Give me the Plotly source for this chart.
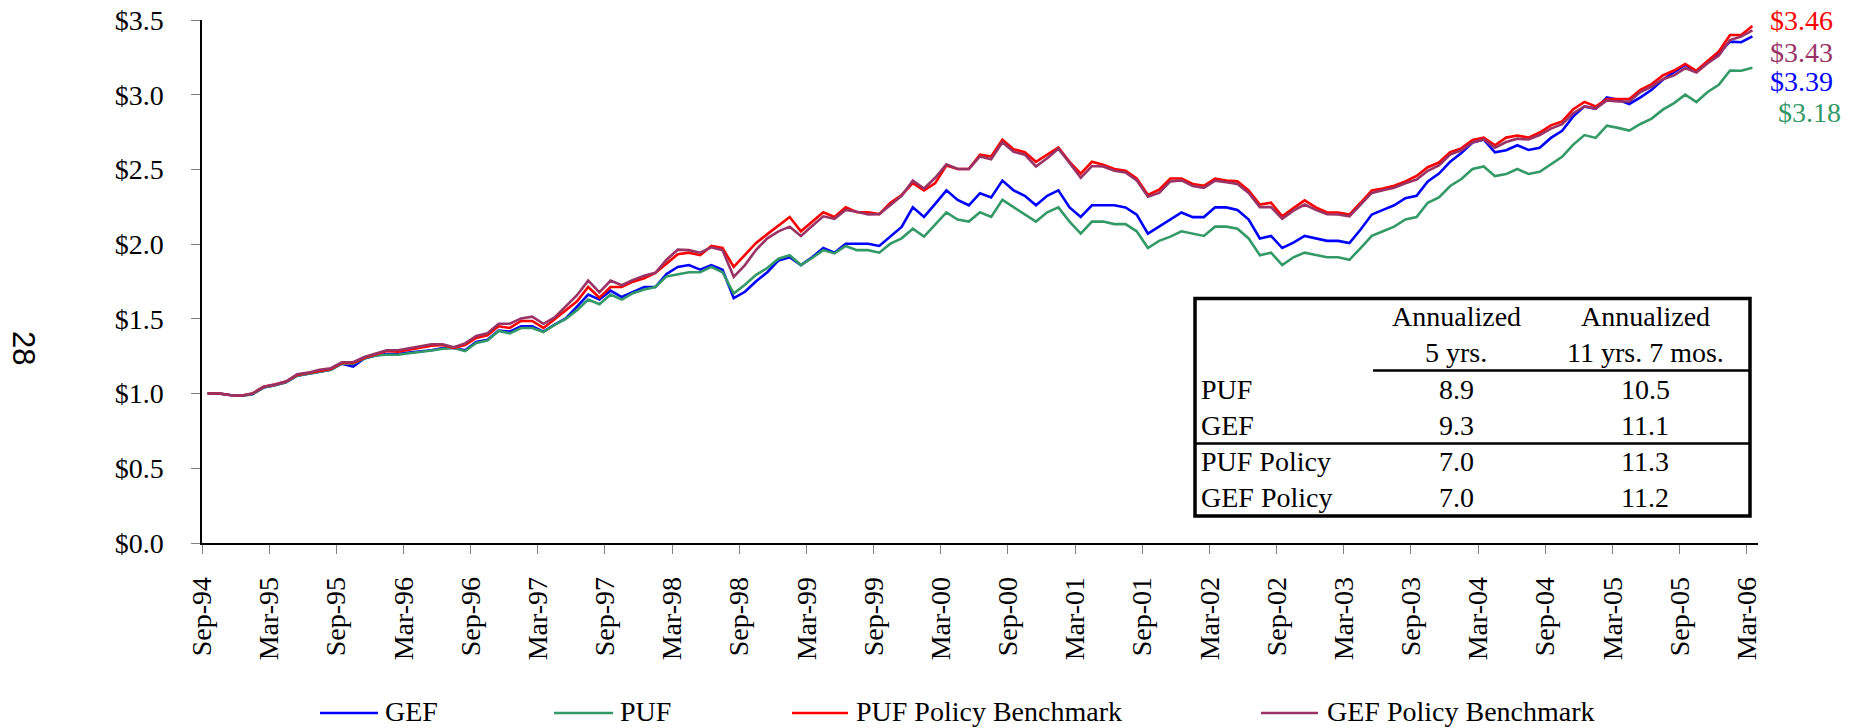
import plotly.graph_objects as go

# ---------------- data ----------------
tick_labels = ["Sep-94", "Mar-95", "Sep-95", "Mar-96", "Sep-96", "Mar-97", "Sep-97", "Mar-98",
               "Sep-98", "Mar-99", "Sep-99", "Mar-00", "Sep-00", "Mar-01", "Sep-01", "Mar-02",
               "Sep-02", "Mar-03", "Sep-03", "Mar-04", "Sep-04", "Mar-05", "Sep-05", "Mar-06"]

gef = [1.00, 1.00, 0.99, 0.985, 0.995, 1.04, 1.055, 1.075, 1.12, 1.135, 1.15, 1.16, 1.20, 1.18,
       1.235, 1.255, 1.265, 1.265, 1.275, 1.28, 1.29, 1.305, 1.305, 1.29, 1.345, 1.36, 1.422, 1.415,
       1.45, 1.45, 1.415, 1.462, 1.503, 1.582, 1.663, 1.629, 1.689, 1.646, 1.682, 1.713, 1.713, 1.801,
       1.847, 1.86, 1.829, 1.86, 1.829, 1.638, 1.681, 1.752, 1.812, 1.891, 1.912, 1.86, 1.912, 1.974,
       1.943, 2.003, 2.003, 2.003, 1.988, 2.051, 2.115, 2.246, 2.182, 2.27, 2.36, 2.296, 2.26, 2.341,
       2.313, 2.425, 2.36, 2.324, 2.26, 2.324, 2.36, 2.246, 2.182, 2.26, 2.26, 2.26, 2.246, 2.198,
       2.07, 2.117, 2.165, 2.212, 2.181, 2.181, 2.246, 2.246, 2.229, 2.165, 2.038, 2.055, 1.974, 2.01,
       2.055, 2.038, 2.022, 2.022, 2.007, 2.098, 2.198, 2.229, 2.26, 2.308, 2.324, 2.42, 2.472, 2.551,
       2.61, 2.68, 2.70, 2.615, 2.628, 2.662, 2.63, 2.645, 2.711, 2.759, 2.855, 2.922, 2.906, 2.982,
       2.966, 2.938, 2.982, 3.033, 3.10, 3.151, 3.20, 3.155, 3.222, 3.278, 3.355, 3.351, 3.39]

puf = [1.00, 1.00, 0.99, 0.985, 0.995, 1.04, 1.055, 1.075, 1.12, 1.135, 1.15, 1.16, 1.20, 1.20,
       1.235, 1.255, 1.26, 1.26, 1.27, 1.277, 1.288, 1.30, 1.305, 1.284, 1.338, 1.355, 1.419, 1.403,
       1.439, 1.439, 1.412, 1.46, 1.50, 1.558, 1.629, 1.598, 1.663, 1.629, 1.672, 1.696, 1.713, 1.784,
       1.80, 1.812, 1.812, 1.848, 1.812, 1.669, 1.729, 1.795, 1.84, 1.903, 1.926, 1.86, 1.907, 1.96,
       1.938, 1.988, 1.96, 1.96, 1.943, 2.003, 2.039, 2.103, 2.051, 2.134, 2.213, 2.165, 2.151, 2.213,
       2.182, 2.296, 2.246, 2.198, 2.151, 2.213, 2.246, 2.151, 2.07, 2.151, 2.151, 2.134, 2.134, 2.086,
       1.974, 2.022, 2.05, 2.086, 2.069, 2.055, 2.117, 2.117, 2.103, 2.038, 1.926, 1.943, 1.86, 1.912,
       1.943, 1.926, 1.912, 1.912, 1.895, 1.974, 2.055, 2.086, 2.117, 2.165, 2.181, 2.277, 2.312, 2.389,
       2.436, 2.503, 2.52, 2.455, 2.469, 2.503, 2.47, 2.484, 2.533, 2.584, 2.666, 2.73, 2.711, 2.793,
       2.778, 2.76, 2.804, 2.84, 2.90, 2.944, 3.00, 2.951, 3.018, 3.066, 3.162, 3.16, 3.18]

puf_policy = [1.00, 1.00, 0.99, 0.985, 1.00, 1.045, 1.06, 1.08, 1.125, 1.14, 1.155, 1.165, 1.205, 1.205,
              1.24, 1.26, 1.285, 1.28, 1.295, 1.305, 1.32, 1.325, 1.305, 1.324, 1.372, 1.39, 1.45, 1.439,
              1.486, 1.486, 1.439, 1.498, 1.558, 1.617, 1.713, 1.641, 1.713, 1.713, 1.749, 1.772, 1.808, 1.868,
              1.933, 1.943, 1.926, 1.988, 1.974, 1.848, 1.926, 2.008, 2.067, 2.127, 2.182, 2.086, 2.151, 2.213,
              2.182, 2.246, 2.213, 2.213, 2.201, 2.277, 2.329, 2.408, 2.36, 2.408, 2.527, 2.503, 2.503, 2.599,
              2.587, 2.699, 2.635, 2.615, 2.551, 2.599, 2.647, 2.551, 2.472, 2.551, 2.532, 2.503, 2.491, 2.439,
              2.329, 2.365, 2.439, 2.439, 2.403, 2.391, 2.439, 2.425, 2.42, 2.36, 2.265, 2.277, 2.186, 2.241,
              2.293, 2.246, 2.212, 2.212, 2.198, 2.277, 2.36, 2.372, 2.391, 2.42, 2.456, 2.515, 2.546, 2.615,
              2.641, 2.697, 2.713, 2.662, 2.713, 2.727, 2.713, 2.747, 2.795, 2.821, 2.903, 2.952, 2.921, 2.971,
              2.971, 2.971, 3.033, 3.071, 3.129, 3.162, 3.206, 3.16, 3.226, 3.289, 3.40, 3.40, 3.46]

gef_policy = [1.00, 1.00, 0.99, 0.985, 1.00, 1.045, 1.06, 1.08, 1.13, 1.14, 1.16, 1.17, 1.21, 1.21,
              1.245, 1.265, 1.29, 1.29, 1.305, 1.315, 1.33, 1.33, 1.31, 1.336, 1.386, 1.403, 1.467, 1.467,
              1.503, 1.515, 1.467, 1.51, 1.586, 1.658, 1.756, 1.677, 1.756, 1.725, 1.761, 1.789, 1.808, 1.896,
              1.963, 1.96, 1.943, 1.979, 1.96, 1.781, 1.86, 1.962, 2.039, 2.086, 2.117, 2.055, 2.122, 2.186,
              2.17, 2.229, 2.217, 2.198, 2.201, 2.265, 2.324, 2.425, 2.372, 2.444, 2.534, 2.503, 2.503, 2.587,
              2.568, 2.682, 2.618, 2.599, 2.52, 2.575, 2.639, 2.544, 2.444, 2.523, 2.52, 2.491, 2.48, 2.427,
              2.317, 2.343, 2.42, 2.427, 2.389, 2.377, 2.425, 2.415, 2.403, 2.343, 2.248, 2.248, 2.169, 2.224,
              2.265, 2.229, 2.20, 2.198, 2.186, 2.265, 2.343, 2.36, 2.377, 2.408, 2.432, 2.491, 2.527, 2.599,
              2.627, 2.68, 2.70, 2.645, 2.683, 2.706, 2.70, 2.73, 2.773, 2.803, 2.876, 2.922, 2.907, 2.962,
              2.955, 2.955, 3.018, 3.055, 3.104, 3.129, 3.178, 3.149, 3.211, 3.262, 3.366, 3.389, 3.43]

series_names = ["GEF", "PUF", "PUF Policy Benchmark", "GEF Policy Benchmark"]
series_colors = ["#0000FF", "#339966", "#FF0000", "#993366"]

table_rows = ["PUF", "GEF", "PUF Policy", "GEF Policy"]
table_hdr1 = ["Annualized", "Annualized"]
table_hdr2 = ["5 yrs.", "11 yrs. 7 mos."]
five_yr = [8.9, 9.3, 7.0, 7.0]
since_incep = [10.5, 11.1, 11.3, 11.2]

# ---------------- geometry helpers (pixels -> paper) ----------------
W, H = 1853, 728
L, R, T, B = 202, 95, 20, 185
PW, PH = W - L - R, H - T - B


def px(x):
    return (x - L) / PW


def py(y):
    return (H - B - y) / PH


SERIF = "Liberation Serif, Times New Roman, serif"
FS = 28

fig = go.Figure()
all_series = [gef, puf, puf_policy, gef_policy]
for vals, name, col in zip(all_series, series_names, series_colors):
    fig.add_trace(go.Scatter(
        x=[i + 0.5 for i in range(len(vals))], y=vals, mode="lines", name=name,
        line=dict(color=col, width=2.6), showlegend=False, hoverinfo="skip"))

shapes = []
ann = []


def txt(x, y, s, anchor="center", color="black", size=FS, family=SERIF, angle=0):
    ann.append(dict(xref="paper", yref="paper", x=px(x), y=py(y), text=s, showarrow=False,
                    xanchor=anchor, yanchor="middle", textangle=angle,
                    font=dict(family=family, size=size, color=color)))


# legend (key lines + names), laid out as in the reference
line_starts = [320, 554, 792, 1261]
line_ends = [378, 613, 848, 1318]
text_starts = [383, 618, 854, 1325]
leg_y = 711
for ls, le, ts, col, name in zip(line_starts, line_ends, text_starts, series_colors, series_names):
    shapes.append(dict(type="line", xref="paper", yref="paper",
                       x0=px(ls), x1=px(le), y0=py(leg_y + 2), y1=py(leg_y + 2),
                       line=dict(color=col, width=2.6)))
    txt(ts, leg_y, name, anchor="left")

# table box
TX0, TX1, TY0, TY1 = 1195, 1750, 298.5, 516
shapes.append(dict(type="rect", xref="paper", yref="paper", x0=px(TX0), x1=px(TX1),
                   y0=py(TY1), y1=py(TY0), line=dict(color="black", width=3.5),
                   fillcolor="white", layer="above"))
shapes.append(dict(type="line", xref="paper", yref="paper", x0=px(1373), x1=px(TX1),
                   y0=py(370.5), y1=py(370.5), line=dict(color="black", width=2.5)))
shapes.append(dict(type="line", xref="paper", yref="paper", x0=px(TX0), x1=px(TX1),
                   y0=py(443.5), y1=py(443.5), line=dict(color="black", width=2.5)))

col_x = [1456, 1645]
row_y = [389, 425, 461, 497]
hdr_y = [316, 352]
for cx, h1, h2 in zip(col_x, table_hdr1, table_hdr2):
    txt(cx, hdr_y[0], h1)
    txt(cx, hdr_y[1], h2)
for ry, rn, a, b in zip(row_y, table_rows, five_yr, since_incep):
    txt(1199, ry, rn, anchor="left")
    txt(col_x[0], ry, f"{a:.1f}")
    txt(col_x[1], ry, f"{b:.1f}")

# end-value labels
end_vals = [puf_policy[-1], gef_policy[-1], gef[-1], puf[-1]]
end_cols = [series_colors[2], series_colors[3], series_colors[0], series_colors[1]]
end_pos = [(1768, 20), (1768, 52), (1768, 82), (1776, 113)]
for v, c, (ex, ey) in zip(end_vals, end_cols, end_pos):
    txt(ex, ey, f"${v:.2f}", anchor="left", color=c)

# page number
txt(24, 348, "28", family="Liberation Sans, Arial, sans-serif", size=31, angle=90)

fig.update_layout(
    width=W, height=H, margin=dict(l=L, r=R, t=T, b=B, pad=0, autoexpand=False),
    paper_bgcolor="white", plot_bgcolor="white",
    shapes=shapes, annotations=ann, showlegend=False,
)
fig.update_xaxes(
    range=[0, 139], tickmode="array", tickvals=list(range(0, 139, 6)), ticktext=tick_labels,
    tickangle=-90, ticks="outside", ticklen=9, tickwidth=1.3, tickcolor="#808080",
    showline=True, linecolor="black", linewidth=1.5, showgrid=False, zeroline=False,
    tickfont=dict(family=SERIF, size=FS, color="black"), ticklabelstandoff=12, fixedrange=True,
    automargin=False)
fig.update_yaxes(
    range=[0, 3.5], dtick=0.5, tick0=0, tickprefix="$", tickformat=".1f",
    ticks="outside", ticklen=9, tickwidth=1.3, tickcolor="#808080",
    showline=True, linecolor="black", linewidth=1.5, showgrid=False, zeroline=False,
    tickfont=dict(family=SERIF, size=FS, color="black"), ticklabelstandoff=22, fixedrange=True,
    automargin=False)

fig.write_html(
    "out.html", config={"displayModeBar": False},
    post_script="document.body.style.margin='0';document.body.style.overflow='hidden';")
